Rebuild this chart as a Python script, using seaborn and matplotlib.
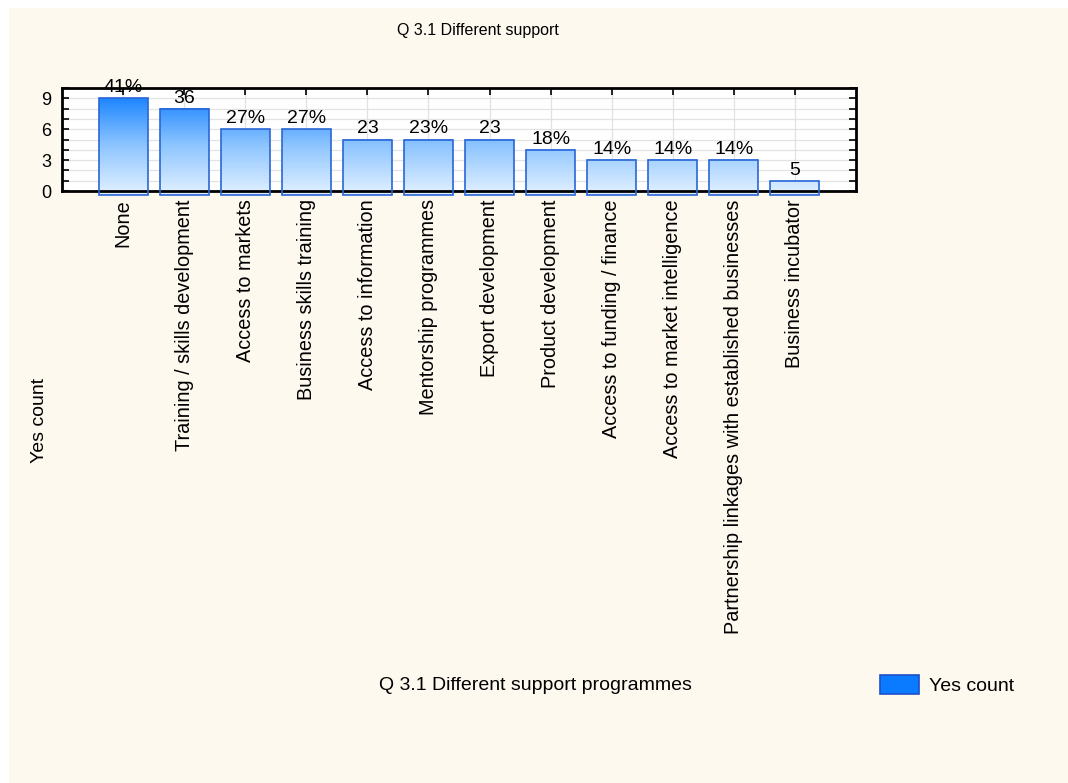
import matplotlib
matplotlib.use("Agg")
import matplotlib.pyplot as plt
import seaborn as sns
import numpy as np
import pandas as pd
from matplotlib.patches import Rectangle, Patch

categories = ["None", "Training / skills development", "Access to markets",
              "Business skills training", "Access to information",
              "Mentorship programmes", "Export development", "Product development",
              "Access to funding / finance", "Access to market intelligence",
              "Partnership linkages with established businesses", "Business incubator"]
counts = [9, 8, 6, 6, 5, 5, 5, 4, 3, 3, 3, 1]
bar_labels = ["41%", "36", "27%", "27%", "23", "23%", "23", "18%", "14%", "14%", "14%", "5"]
y_ticks = [0, 3, 6, 9]

sns.set_theme(style="white")
plt.rcParams['font.family'] = ['Liberation Sans', 'DejaVu Sans']
plt.rcParams['text.color'] = 'black'
plt.rcParams['xtick.color'] = 'black'
plt.rcParams['ytick.color'] = 'black'

FS = 14.3

df = pd.DataFrame({"cat": categories, "count": counts})

fig = plt.figure(figsize=(10.68, 7.83), dpi=100)
fig.patch.set_facecolor("white")
bg = Rectangle((9/1068, 0), 1, 1 - 8/783, transform=fig.transFigure,
               facecolor="#FEF9EF", edgecolor="none", zorder=-10)
fig.patches.append(bg)

ax = fig.add_axes([62/1068, 1 - 191/783, (856 - 62)/1068, (191 - 88)/783])
ax.set_facecolor("white")

sns.barplot(data=df, x="cat", y="count", ax=ax, width=0.8,
            color="#3D9BFF", edgecolor="#2A66D6", linewidth=1.2, zorder=3)

cmap = matplotlib.colors.LinearSegmentedColormap.from_list(
    "g", ["#DCEEFF", "#8CC4FF", "#1E86FF"])
below = 0.4
for p in ax.patches:
    x0 = p.get_x(); w = p.get_width(); h = p.get_height()
    p.set_y(-below); p.set_height(h + below)
    p.set_clip_on(False)
    p.set_facecolor("none")
    vals = np.clip(np.linspace(-below, h, 200) / 9.0, 0, 1).reshape(-1, 1)
    im = ax.imshow(vals, extent=[x0, x0 + w, -below, h], origin="lower",
                   cmap=cmap, vmin=0, vmax=1, aspect="auto", zorder=2,
                   clip_on=False)
    im.set_clip_path(p)

ax.set_xlim(-1, 12)
ax.set_ylim(0, 10)

for i, (c, lab) in enumerate(zip(counts, bar_labels)):
    ax.text(i, c + 0.2, lab, ha="center", va="bottom", fontsize=14,
            color="black", clip_on=False, zorder=5)

ax.set_yticks(y_ticks)
ax.set_yticks(range(0, 11), minor=True)
ax.set_xticks(range(len(categories)))
ax.set_xticklabels(categories, rotation=90, fontsize=FS)
ax.tick_params(axis="y", labelsize=13, pad=8)
ax.tick_params(axis="both", which="both", direction="in", top=True, right=True,
               length=5, width=1.2, color="black", left=True, bottom=True)
ax.tick_params(axis="x", pad=6)
ax.grid(True, which="both", color="#E2E2E2", linewidth=0.9, zorder=0)
ax.set_axisbelow(True)
for s in ax.spines.values():
    s.set_visible(True)
    s.set_color("black")
    s.set_linewidth(2)
ax.set_xlabel("")
ax.set_ylabel("")

fig.text(478/1068, 1 - 30/783, "Q 3.1 Different support", ha="center", va="center", fontsize=11.5)
fig.text(535/1068, 1 - 686/783, "Q 3.1 Different support programmes", ha="center", va="center", fontsize=14)
fig.text(40/1068, 1 - 420/783, "Yes count", ha="center", va="center", rotation=90, fontsize=14)

handle = Patch(facecolor="#0A7BFF", edgecolor="#1E4FC8", linewidth=1.2, label="Yes count")
fig.legend(handles=[handle], loc="center left", bbox_to_anchor=(880/1068, 1 - 685/783),
           frameon=False, fontsize=14, handlelength=2.0, handleheight=1.1,
           handletextpad=0.5, borderpad=0, borderaxespad=0)

fig.savefig("out.png", dpi=100, facecolor=fig.get_facecolor())
